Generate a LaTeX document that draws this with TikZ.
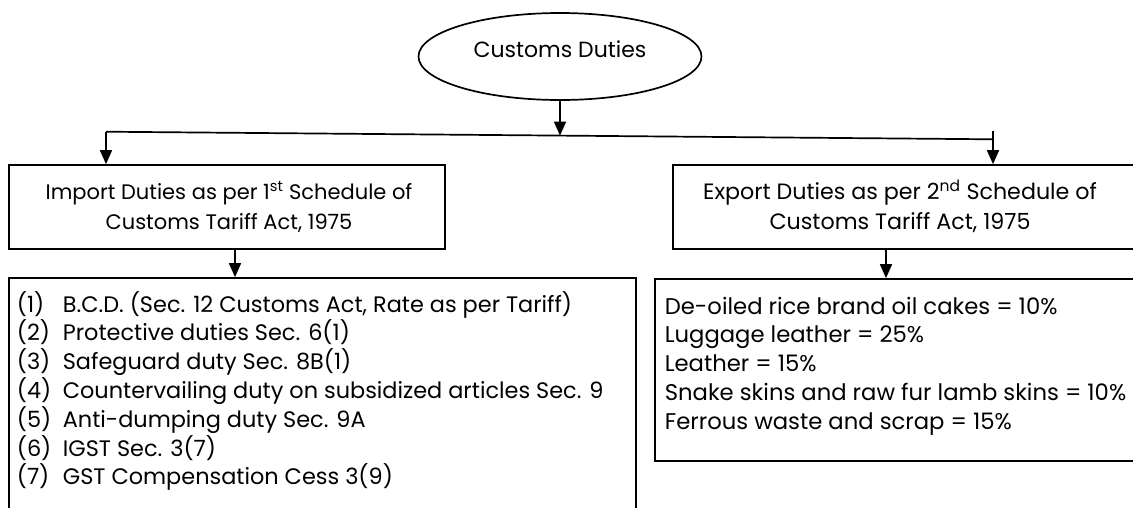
\documentclass[tikz,border=0pt]{standalone}
\usepackage{fontspec}
\setmainfont{Poppins}
\usetikzlibrary{arrows.meta,shapes.geometric}
\begin{document}
\begin{tikzpicture}[x=1pt,y=-1pt,
  line width=1.7pt,
  arr/.style={-{Triangle[width=12pt,length=14pt]}},
  box/.style={draw, rectangle, inner sep=0pt},
  itxt/.style={inner sep=0pt, font=\fontsize{21}{25}\selectfont},
  etxt/.style={inner sep=0pt, font=\fontsize{22.2}{26}\selectfont},
  ltxt/.style={inner sep=0pt, font=\fontsize{22.4}{26}\selectfont},
  rtxt/.style={inner sep=0pt, font=\fontsize{22.7}{26}\selectfont},
]
\useasboundingbox (0,0) rectangle (1133,507);
% top ellipse
\node[draw, ellipse, minimum width=283pt, minimum height=87pt, inner sep=0pt,
      font=\fontsize{22}{26}\selectfont, text height=16pt, text depth=14.4pt] (cd) at (560,56.5) {Customs Duties};
% second level boxes
\node[box, minimum width=436pt, minimum height=84pt] (imp) at (227,207) {};
\node[itxt, anchor=base] (imp1) at (229,199.5) {Import Duties as per 1\textsuperscript{st} Schedule of};
\node[itxt, anchor=base] (imp2) at (229,229) {Customs Tariff Act, 1975};
\node[box, minimum width=467pt, minimum height=84pt] (exp) at (906.5,207) {};
\node[etxt, anchor=base] (exp1) at (900,199.5) {Export Duties as per 2\textsuperscript{nd} Schedule of};
\node[etxt, anchor=base] (exp2) at (900,229) {Customs Tariff Act, 1975};
% list boxes
\node[box, minimum width=627pt, minimum height=242pt] (il) at (322.5,399) {};
\node[box, minimum width=485pt, minimum height=182pt] (el) at (897.5,370) {};
% import list
\node[ltxt, anchor=base west] (n1) at (16,312) {(1)};
\node[ltxt, anchor=base west] (t1) at (62,312) {B.C.D. (Sec. 12 Customs Act, Rate as per Tariff)};
\node[ltxt, anchor=base west] (n2) at (16,340.8) {(2)};
\node[ltxt, anchor=base west] (t2) at (62,340.8) {Protective duties Sec. 6(1)};
\node[ltxt, anchor=base west] (n3) at (16,369.6) {(3)};
\node[ltxt, anchor=base west] (t3) at (62,369.6) {Safeguard duty Sec. 8B(1)};
\node[ltxt, anchor=base west] (n4) at (16,398.4) {(4)};
\node[ltxt, anchor=base west] (t4) at (62,398.4) {Countervailing duty on subsidized articles Sec. 9};
\node[ltxt, anchor=base west] (n5) at (16,427.2) {(5)};
\node[ltxt, anchor=base west] (t5) at (62,427.2) {Anti-dumping duty Sec. 9A};
\node[ltxt, anchor=base west] (n6) at (16,456) {(6)};
\node[ltxt, anchor=base west] (t6) at (62,456) {IGST Sec. 3(7)};
\node[ltxt, anchor=base west] (n7) at (16,484.8) {(7)};
\node[ltxt, anchor=base west] (t7) at (62,484.8) {GST Compensation Cess 3(9)};
% export list
\node[rtxt, anchor=base west] (e1) at (664,314) {De-oiled rice brand oil cakes = 10\%};
\node[rtxt, anchor=base west] (e2) at (664,342.8) {Luggage leather = 25\%};
\node[rtxt, anchor=base west] (e3) at (664,371.6) {Leather = 15\%};
\node[rtxt, anchor=base west] (e4) at (664,400.4) {Snake skins and raw fur lamb skins = 10\%};
\node[rtxt, anchor=base west] (e5) at (664,429.2) {Ferrous waste and scrap = 15\%};
% connectors
\coordinate (hl) at (106,131.7);
\coordinate (hr) at (993,139.3);
\coordinate (hm) at (560,135.6);
\coordinate (rt) at (993,130.7);
\coordinate (a1) at (235,249);
\coordinate (a2) at (886,249);
\draw (hl) -- (hr);
\draw[arr] (cd.south) -- (hm);
\draw[arr] (hl) -- (hl |- imp.north);
\draw[arr] (rt) -- (rt |- exp.north);
\draw[arr] (a1) -- (a1 |- il.north);
\draw[arr] (a2) -- (a2 |- el.north);
\end{tikzpicture}
\end{document}
